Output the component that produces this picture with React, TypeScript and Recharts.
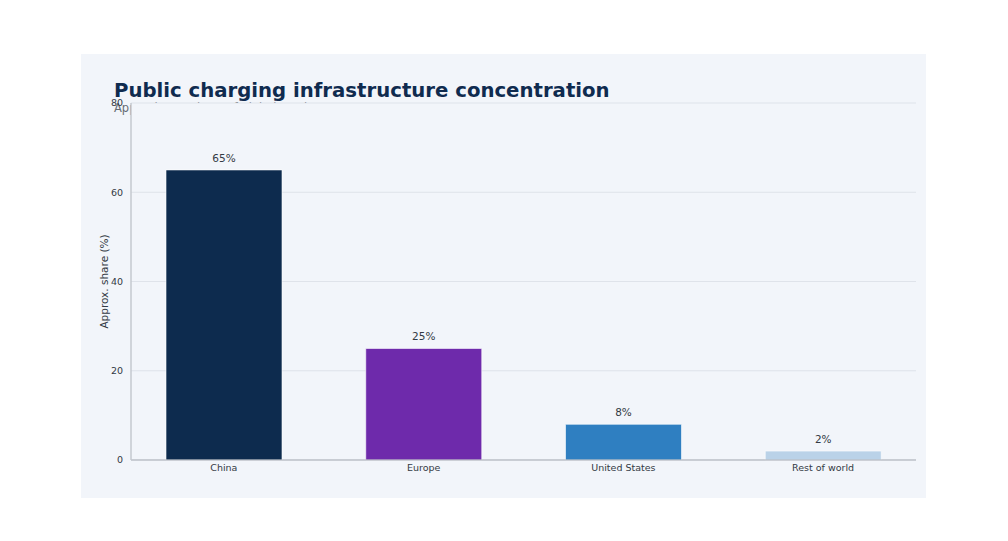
import React from 'react';
import { BarChart, Bar, XAxis, YAxis, CartesianGrid, Cell, LabelList, Label } from 'recharts';

const categories = ['China', 'Europe', 'United States', 'Rest of world'];
const shares = [65, 25, 8, 2];
const barColors = ['#0d2b4e', '#6e2aab', '#2f7fc1', '#bad2e8'];
const yTicks = [0, 20, 40, 60, 80];

const data = categories.map((name, i) => ({ name, share: shares[i] }));

const FONT = '"DejaVu Sans", sans-serif';
const PANEL = '#f2f5fa';

export default function App() {
  return (
    <div style={{ position: 'absolute', left: 0, top: 0, width: 1008, height: 541, background: '#ffffff', fontFamily: FONT }}>
      <div style={{ position: 'absolute', left: 81, top: 54, width: 845, height: 444, background: PANEL }} />
      <div style={{ position: 'absolute', left: 114, top: 79, fontSize: 19.7, fontWeight: 'bold', color: '#0f2b4f', whiteSpace: 'nowrap', lineHeight: '24px' }}>
        Public charging infrastructure concentration
      </div>
      <div style={{ position: 'absolute', left: 114, top: 100.5, fontSize: 11.5, color: '#666c75', whiteSpace: 'nowrap', lineHeight: '14px' }}>
        Approximate share of global stock
      </div>
      <div style={{ position: 'absolute', left: 131, top: 103, width: 785, height: 357, background: PANEL }} />
      <div style={{ position: 'absolute', left: 0, top: 0 }}>
        <BarChart width={1008} height={541} data={data} margin={{ top: 103, right: 92, bottom: 51, left: 91 }}>
          <CartesianGrid vertical={false} stroke="#d9dee6" strokeWidth={0.8} />
          <XAxis
            dataKey="name"
            height={30}
            padding={{ left: -7, right: -7 }}
            axisLine={{ stroke: '#a9adb5', strokeWidth: 1 }}
            tickLine={false}
            tick={{ fontSize: 9.5, fill: '#333a44', fontFamily: FONT }}
            tickMargin={-2}
            interval={0}
          />
          <YAxis
            width={40}
            domain={[0, 80]}
            ticks={yTicks}
            axisLine={{ stroke: '#c4c8cf', strokeWidth: 1.5 }}
            tickLine={false}
            tick={{ fontSize: 9.5, fill: '#333a44', fontFamily: FONT }}
            tickMargin={2}
          >
            <Label
              value="Approx. share (%)"
              angle={-90}
              position="insideLeft"
              offset={13}
              style={{ textAnchor: 'middle', fontSize: 10.5, fill: '#333a44', fontFamily: FONT }}
            />
          </YAxis>
          <Bar dataKey="share" barSize={116} isAnimationActive={false} stroke="#ffffff" strokeWidth={0.6}>
            {data.map((d, i) => (
              <Cell key={d.name} fill={barColors[i]} />
            ))}
            <LabelList
              dataKey="share"
              position="top"
              offset={8}
              formatter={(v: number) => `${v}%`}
              style={{ fontSize: 10.5, fill: '#333a44', fontFamily: FONT }}
            />
          </Bar>
        </BarChart>
      </div>
    </div>
  );
}
